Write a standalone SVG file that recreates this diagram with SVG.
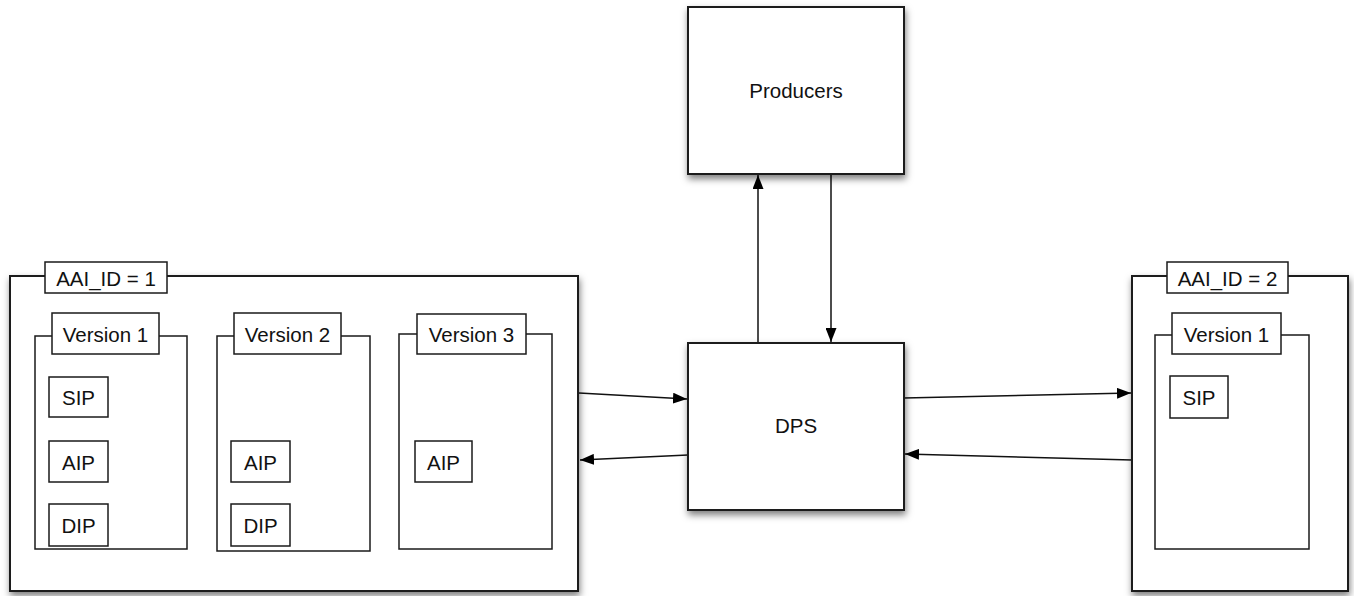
<svg xmlns="http://www.w3.org/2000/svg" width="1354" height="596" viewBox="0 0 1354 596">
  <style>
    .box { fill: #ffffff; stroke: #1a1a1a; stroke-width: 2; }
    .inner { fill: #ffffff; stroke: #1a1a1a; stroke-width: 1.5; }
    .big { filter: url(#shadow); }
    .lbl { font-family: "Liberation Sans", Arial, sans-serif; font-size: 20.5px; fill: #111111; text-anchor: middle; dominant-baseline: central; }
    .wire { fill: none; stroke: #111111; stroke-width: 1.5; marker-end: url(#arrow); }
  </style>
  <defs>
    <filter id="shadow" x="-10%" y="-10%" width="125%" height="125%">
      <feDropShadow dx="1" dy="4" stdDeviation="3.5" flood-color="#000000" flood-opacity="0.5"/>
    </filter>
    <marker id="arrow" viewBox="0 0 14 11" refX="14" refY="5.5" markerWidth="14" markerHeight="11" markerUnits="userSpaceOnUse" orient="auto">
      <path d="M0,0 L14,5.5 L0,11 Z" fill="#000000"/>
    </marker>
  </defs>

  <!-- connectors -->
  <g id="connectors">
    <path class="wire" d="M758,343 L758,175"/>
    <path class="wire" d="M831,175 L831,342"/>
    <path class="wire" d="M579,393 L687,399"/>
    <path class="wire" d="M688,455 L580,460"/>
    <path class="wire" d="M904,398 L1131,393"/>
    <path class="wire" d="M1132,460 L905,454"/>
  </g>

  <!-- Producers -->
  <g id="producers">
    <rect class="box big" x="688" y="7" width="216" height="167"/>
    <text class="lbl" x="796" y="90">Producers</text>
  </g>

  <!-- DPS -->
  <g id="dps">
    <rect class="box big" x="688" y="343" width="216" height="167"/>
    <text class="lbl" x="796" y="425">DPS</text>
  </g>

  <!-- Archive AAI_ID = 1 -->
  <g id="aai1">
    <rect class="box big" x="10" y="276" width="568" height="315"/>
    <rect class="inner" x="45" y="262" width="122" height="31"/>
    <text class="lbl" x="106" y="278">AAI_ID = 1</text>

    <g id="aai1-v1">
      <rect class="inner" x="35" y="336" width="152" height="213"/>
      <rect class="inner" x="52" y="313" width="107" height="41"/>
      <text class="lbl" x="105.5" y="334">Version 1</text>
      <rect class="inner" x="49" y="377" width="59" height="40"/>
      <text class="lbl" x="78.5" y="397">SIP</text>
      <rect class="inner" x="49" y="441" width="59" height="41"/>
      <text class="lbl" x="78.5" y="462">AIP</text>
      <rect class="inner" x="49" y="504" width="59" height="42"/>
      <text class="lbl" x="78.5" y="525">DIP</text>
    </g>

    <g id="aai1-v2">
      <rect class="inner" x="217" y="336" width="153" height="215"/>
      <rect class="inner" x="234" y="313" width="107" height="41"/>
      <text class="lbl" x="287.5" y="334">Version 2</text>
      <rect class="inner" x="231" y="441" width="59" height="41"/>
      <text class="lbl" x="260.5" y="462">AIP</text>
      <rect class="inner" x="231" y="504" width="59" height="42"/>
      <text class="lbl" x="260.5" y="525">DIP</text>
    </g>

    <g id="aai1-v3">
      <rect class="inner" x="399" y="334" width="153" height="215"/>
      <rect class="inner" x="417" y="314" width="109" height="40"/>
      <text class="lbl" x="471.5" y="334">Version 3</text>
      <rect class="inner" x="415" y="441" width="57" height="41"/>
      <text class="lbl" x="443.5" y="462">AIP</text>
    </g>
  </g>

  <!-- Archive AAI_ID = 2 -->
  <g id="aai2">
    <rect class="box big" x="1132" y="276" width="216" height="315"/>
    <rect class="inner" x="1167" y="262" width="121" height="31"/>
    <text class="lbl" x="1227.5" y="278">AAI_ID = 2</text>

    <g id="aai2-v1">
      <rect class="inner" x="1155" y="335" width="154" height="214"/>
      <rect class="inner" x="1172" y="313" width="109" height="41"/>
      <text class="lbl" x="1226.5" y="334">Version 1</text>
      <rect class="inner" x="1170" y="376" width="58" height="42"/>
      <text class="lbl" x="1199" y="397">SIP</text>
    </g>
  </g>
</svg>
